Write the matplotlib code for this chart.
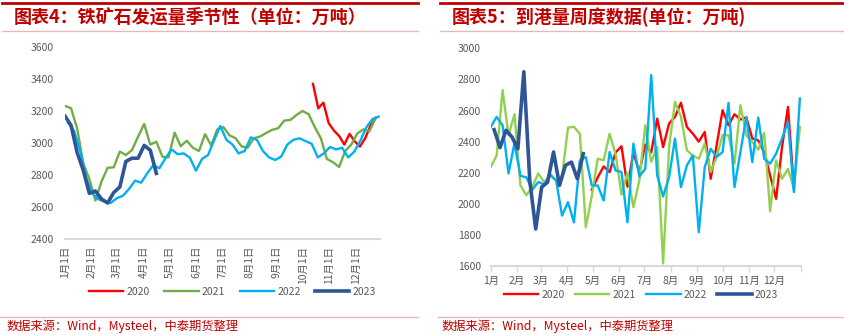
import matplotlib
matplotlib.use("Agg")
import numpy as np
import matplotlib.pyplot as plt
from matplotlib.lines import Line2D

plt.rcParams['font.family'] = ['Noto Sans CJK SC', 'DejaVu Sans']

# ---- 图表4 铁矿石发运量季节性 (周度, 万吨) ----
ship_2020 = [3370, 3217, 3252, 3125, 3078, 3044, 2990, 3057, 3010, 2978, 3030, 3108, 3155]
ship_2021 = [3232, 3217, 3090, 2873, 2775, 2640, 2760, 2845, 2848, 2946, 2925, 2956, 3040,
             3119, 2990, 3008, 2914, 2910, 3065, 2980, 3014, 2970, 2950, 3055, 2985, 3085,
             3100, 3048, 3030, 2978, 2972, 3030, 3040, 3062, 3082, 3092, 3140, 3144, 3175,
             3200, 3180, 3100, 3030, 2900, 2880, 2850, 2950, 2990, 3060, 3085, 3075, 3158]
ship_2022 = [3127, 3075, 2950, 2780, 2685, 2648, 2633, 2625, 2655, 2670, 2712, 2765, 2752,
             2810, 2862, 2842, 2905, 2960, 2930, 2935, 2908, 2827, 2900, 2925, 3019, 3106,
             3020, 2990, 2935, 2950, 3035, 3020, 2950, 2910, 2894, 2915, 2990, 3020, 3029,
             3012, 2995, 2910, 2935, 2975, 2960, 2970, 2910, 2946, 3015, 3100, 3150, 3165]
ship_2023 = [3168, 3110, 2940, 2830, 2685, 2700, 2650, 2625, 2690, 2725, 2885, 2905, 2905,
             2985, 2955, 2810]
# 起始日 / 步长 (天)
ship_start = {'2020': 285, '2021': 0, '2022': 3.5, '2023': 0}
ship_step = {'2020': 6, '2021': 7, '2022': 7, '2023': 7}

# ---- 图表5 到港量周度数据 (万吨) ----
port_2020 = [2090, 2170, 2240, 2204, 2330, 2370, 2110, 2330, 2200, 2380, 2330, 2548, 2365,
             2516, 2559, 2650, 2494, 2451, 2400, 2462, 2161, 2376, 2602, 2505, 2576, 2542,
             2555, 2420, 2408, 2330, 2182, 2032, 2365, 2623, 2096]
port_2021 = [2236, 2311, 2731, 2441, 2576, 2118, 2055, 2110, 2195, 2140, 2180, 2150, 2180,
             2490, 2495, 2450, 1849, 2050, 2290, 2280, 2450, 2320, 2060, 2200, 1978, 2150,
             2505, 2270, 2365, 1617, 2365, 2656, 2560, 2344, 2310, 2290, 2387, 2204, 2301,
             2441, 2440, 2258, 2634, 2441, 2398, 2348, 2456, 1952, 2279, 2161, 2225, 2096, 2494]
port_2022 = [2494, 2559, 2505, 2195, 2390, 2180, 2170, 2090, 2140, 2125, 2190, 2150, 1924,
             2010, 1881, 2280, 2300, 2118, 2118, 2021, 2333, 2215, 2204, 1881, 2387, 2176,
             2225, 2828, 2182, 2047, 2172, 2419, 2107, 2247, 2311, 1817, 2236, 2354, 2301,
             2333, 2649, 2107, 2333, 2559, 2268, 2555, 2290, 2258, 2322, 2420, 2527, 2075, 2677]
port_2023 = [2477, 2361, 2473, 2430, 2354, 2849, 2150, 1838, 2107, 2139, 2333, 2118, 2247,
             2268, 2161, 2322]
port_start = {'2020': 119, '2021': 0, '2022': 0, '2023': 4}

years = ['2020', '2021', '2022', '2023']
month_days = [0, 31, 59, 90, 120, 151, 181, 212, 243, 273, 304, 334]
left_ticklabels = ['%d月1日' % m for m in range(1, 13)]
right_ticklabels = ['%d月' % m for m in range(1, 13)]

red = '#FF0000'
cyan = '#00B0F0'
navy = '#2F5597'
gray = '#595959'
title_red = '#C00000'
pink = '#E6B8B7'

fig = plt.figure(figsize=(8.45, 3.35), dpi=100)
widths = {'2020': 1.7, '2021': 1.7, '2022': 1.7, '2023': 2.6}

# ---------- 左图 ----------
ax1 = fig.add_axes([0.0769, 0.2866, 0.3728, 0.5731])
ship = dict(zip(years, [ship_2020, ship_2021, ship_2022, ship_2023]))
colors1 = dict(zip(years, [red, '#70AD47', cyan, navy]))
for y in years:
    v = ship[y]
    x = ship_start[y] + ship_step[y] * np.arange(len(v))
    ax1.plot(x, v, color=colors1[y], lw=widths[y], label=y, solid_joinstyle='round')
ax1.set_xlim(0, 362)
ax1.set_ylim(2400, 3600)
ax1.set_yticks(range(2400, 3601, 200))
ax1.set_xticks(month_days)
ax1.set_xticklabels(left_ticklabels, rotation=90, va='top')
ax1.tick_params(axis='x', length=0, pad=5, labelsize=7.5, colors=gray)
ax1.tick_params(axis='y', length=0, pad=8, labelsize=7.5, colors=gray)
for s in ['top', 'right', 'left']:
    ax1.spines[s].set_visible(False)
ax1.spines['bottom'].set_color('#D9D9D9')
ax1.spines['bottom'].set_linewidth(1.5)
ax1.set_facecolor('none')
h1, l1 = ax1.get_legend_handles_labels()
fig.legend(h1, l1, loc='center', bbox_to_anchor=(0.275, 0.128), ncol=4, frameon=False,
           fontsize=7.5, handlelength=3.3, handletextpad=0.3, columnspacing=1.4,
           labelcolor=gray)

# ---------- 右图 ----------
ax2 = fig.add_axes([0.5807, 0.206, 0.3669, 0.6498])
port = dict(zip(years, [port_2020, port_2021, port_2022, port_2023]))
colors2 = dict(zip(years, [red, '#92D050', cyan, navy]))
for y in years:
    v = port[y]
    x = port_start[y] + 7 * np.arange(len(v))
    ax2.plot(x, v, color=colors2[y], lw=widths[y], label=y, solid_joinstyle='round')
ax2.set_xlim(0, 365)
ax2.set_ylim(1600, 3000)
ax2.set_yticks(range(1600, 3001, 200))
ax2.set_xticks(month_days + [365])
ax2.set_xticklabels(right_ticklabels + [''])
ax2.tick_params(axis='x', length=4, width=1, color='#D9D9D9', pad=3, labelsize=7.5,
                labelcolor=gray)
ax2.tick_params(axis='y', length=0, pad=7, labelsize=7.5, colors=gray)
for s in ['top', 'right', 'left']:
    ax2.spines[s].set_visible(False)
ax2.spines['bottom'].set_color('#D9D9D9')
ax2.spines['bottom'].set_linewidth(1.5)
ax2.set_facecolor('none')
h2, l2 = ax2.get_legend_handles_labels()
fig.legend(h2, l2, loc='center', bbox_to_anchor=(0.7586, 0.119), ncol=4, frameon=False,
           fontsize=7.5, handlelength=3.3, handletextpad=0.3, columnspacing=1.0,
           labelcolor=gray)

# ---------- 标题、来源与装饰线 ----------
def hline(x0, x1, yy, color, lw):
    fig.add_artist(Line2D([x0 / 845, x1 / 845], [1 - yy / 335, 1 - yy / 335],
                          transform=fig.transFigure, color=color, lw=lw))

hline(2, 418, 3, title_red, 2.0)
hline(440, 845, 3, title_red, 2.0)
hline(2, 418, 31, pink, 1.0)
hline(440, 845, 31, pink, 1.0)
hline(0, 418, 317, pink, 1.0)
hline(438, 845, 317, pink, 1.0)

fig.text(14 / 845, 1 - 17.5 / 335, '图表4：铁矿石发运量季节性（单位：万吨）', color=title_red,
         fontsize=13, fontweight='bold', style='italic', va='center', ha='left')
fig.text(452 / 845, 1 - 17.5 / 335, '图表5：到港量周度数据(单位：万吨)', color=title_red,
         fontsize=13, fontweight='bold', style='italic', va='center', ha='left')
fig.text(7 / 845, 1 - 326 / 335, '数据来源：Wind，Mysteel，中泰期货整理', color=title_red,
         fontsize=8.8, va='center', ha='left')
fig.text(442 / 845, 1 - 326 / 335, '数据来源：Wind，Mysteel，中泰期货整理', color=title_red,
         fontsize=8.8, va='center', ha='left')

fig.savefig('out.png', dpi=100)
